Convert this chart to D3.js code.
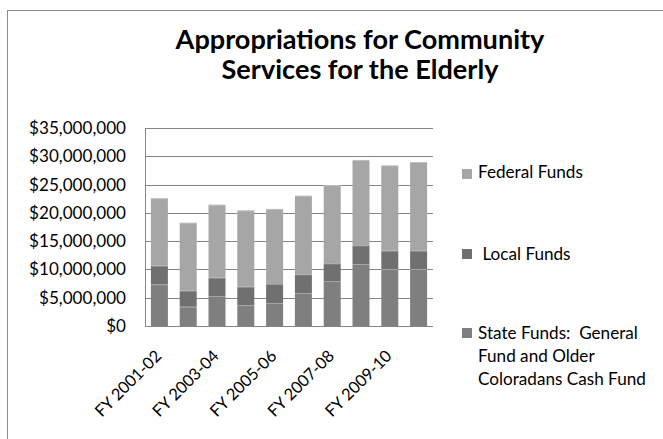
<!DOCTYPE html>
<html>
<head>
<meta charset="utf-8">
<script src="https://cdn.jsdelivr.net/npm/d3@7"></script>
<style>
  html, body { margin: 0; padding: 0; background: #ffffff; }
  svg { display: block; }
  text { font-family: Lato, "Open Sans", "Liberation Sans", sans-serif; fill: #000; }
</style>
</head>
<body>
<svg id="chart" width="663" height="439"></svg>
<script>
// ---- data ----
const categories = ["FY 2001-02","FY 2002-03","FY 2003-04","FY 2004-05","FY 2005-06",
                    "FY 2006-07","FY 2007-08","FY 2008-09","FY 2009-10","FY 2010-11"];
const stateFunds   = [7370000, 3410000, 5300000, 3700000, 4070000, 5830000, 7950000, 10960000, 10080000, 10080000];
const localFunds   = [3280000, 2830000, 3240000, 3250000, 3350000, 3300000, 3130000, 3300000, 3230000, 3230000];
const federalFunds = [11950000, 12020000, 12910000, 13500000, 13280000, 13910000, 13820000, 15090000, 15090000, 15680000];
const seriesNames  = ["State Funds", "Local Funds", "Federal Funds"];
const yTicks = [0, 5000000, 10000000, 15000000, 20000000, 25000000, 30000000, 35000000];
const xTickLabels = ["FY 2001-02","FY 2003-04","FY 2005-06","FY 2007-08","FY 2009-10"];
const titleLines = ["Appropriations for Community", "Services for the Elderly"];
const legendItems = [
  {key: "Federal Funds", lines: ["Federal Funds"]},
  {key: "Local Funds",   lines: [" Local Funds"]},
  {key: "State Funds",   lines: ["State Funds:  General", "Fund and Older", "Coloradans Cash Fund"]}
];

// ---- layout ----
const colors = {"State Funds": "#7f7f7f", "Local Funds": "#707070", "Federal Funds": "#a6a6a6"};
const plot = {left: 145, right: 433, top: 128, bottom: 326};
const svg = d3.select("#chart");

// fit a font size so that text reaches a target width
function fitSize(sampleText, targetWidth, weight) {
  const t = svg.append("text").attr("font-size", 20).attr("font-weight", weight || "normal").text(sampleText);
  const w = t.node().getComputedTextLength();
  t.remove();
  return 20 * targetWidth / w;
}

// frame (only top and left are visible)
svg.append("rect").attr("x", 7.5).attr("y", 10.5).attr("width", 720).attr("height", 500)
  .attr("fill", "none").attr("stroke", "#8a8a8a").attr("stroke-width", 1);

// title
const titleSize = fitSize(titleLines[0], 369, "bold");
svg.append("text").attr("text-anchor", "middle").attr("font-weight", "bold").attr("font-size", titleSize)
  .selectAll("tspan").data(titleLines).join("tspan")
  .attr("x", 360).attr("y", (d, i) => 49 + i * 30).text(d => d);

// scales
const x = d3.scaleBand().domain(categories).range([plot.left, plot.right])
  .paddingInner(0.41).paddingOuter(0.205);
const y = d3.scaleLinear().domain([0, 35000000]).range([plot.bottom, plot.top]);

// gridlines
svg.append("g").selectAll("line").data(yTicks.filter(v => v > 0)).join("line")
  .attr("x1", plot.left).attr("x2", plot.right)
  .attr("y1", d => Math.round(y(d)) + 0.5).attr("y2", d => Math.round(y(d)) + 0.5)
  .attr("stroke", "#868686").attr("stroke-width", 1);

// stacked bars
const rows = categories.map((c, i) => ({cat: c, "State Funds": stateFunds[i], "Local Funds": localFunds[i], "Federal Funds": federalFunds[i]}));
const stack = d3.stack().keys(seriesNames)(rows);
const gBars = svg.append("g");
stack.forEach(layer => {
  gBars.append("g").selectAll("rect").data(layer).join("rect")
    .attr("x", d => x(d.data.cat)).attr("width", x.bandwidth())
    .attr("y", d => y(d[1])).attr("height", d => y(d[0]) - y(d[1]))
    .attr("fill", colors[layer.key]);
  gBars.append("g").selectAll("line").data(layer).join("line")
    .attr("x1", d => x(d.data.cat)).attr("x2", d => x(d.data.cat) + x.bandwidth())
    .attr("y1", d => y(d[1]) + 0.5).attr("y2", d => y(d[1]) + 0.5)
    .attr("stroke", "#ffffff").attr("stroke-opacity", 0.3).attr("stroke-width", 1);
});

// axes lines
svg.append("line").attr("x1", plot.left + 0.5).attr("x2", plot.left + 0.5)
  .attr("y1", plot.top).attr("y2", plot.bottom + 1).attr("stroke", "#868686");
svg.append("line").attr("x1", plot.left).attr("x2", plot.right)
  .attr("y1", plot.bottom + 0.5).attr("y2", plot.bottom + 0.5).attr("stroke", "#868686");

// y tick labels
const fmt = v => "$" + d3.format(",")(v);
const ySize = fitSize(fmt(35000000), 97);
svg.append("g").selectAll("text").data(yTicks).join("text")
  .attr("x", 126).attr("y", d => y(d)).attr("dy", "0.35em")
  .attr("text-anchor", "end").attr("font-size", ySize).text(fmt);

// x tick labels (rotated)
const xSize = fitSize(xTickLabels[0], 86);
svg.append("g").selectAll("text").data(xTickLabels).join("text")
  .attr("font-size", xSize).attr("text-anchor", "end")
  .attr("transform", d => `translate(${x(d) + x.bandwidth() / 2 + 3},${plot.bottom + 31}) rotate(-45)`)
  .text(d => d);

// legend
const legSize = fitSize("Coloradans Cash Fund", 168);
const legendY = [172, 254, 333];
legendItems.forEach((item, i) => {
  const cy = legendY[i];
  svg.append("rect").attr("x", 462).attr("y", cy - 5 + (i === 0 ? 2 : 0)).attr("width", 10).attr("height", 10)
    .attr("fill", colors[item.key]);
  svg.append("text").attr("font-size", legSize).attr("xml:space", "preserve")
    .style("white-space", "pre")
    .selectAll("tspan").data(item.lines).join("tspan")
    .attr("x", 478).attr("y", (d, j) => cy + j * 23).attr("dy", "0.35em").text(d => d);
});
</script>
</body>
</html>
